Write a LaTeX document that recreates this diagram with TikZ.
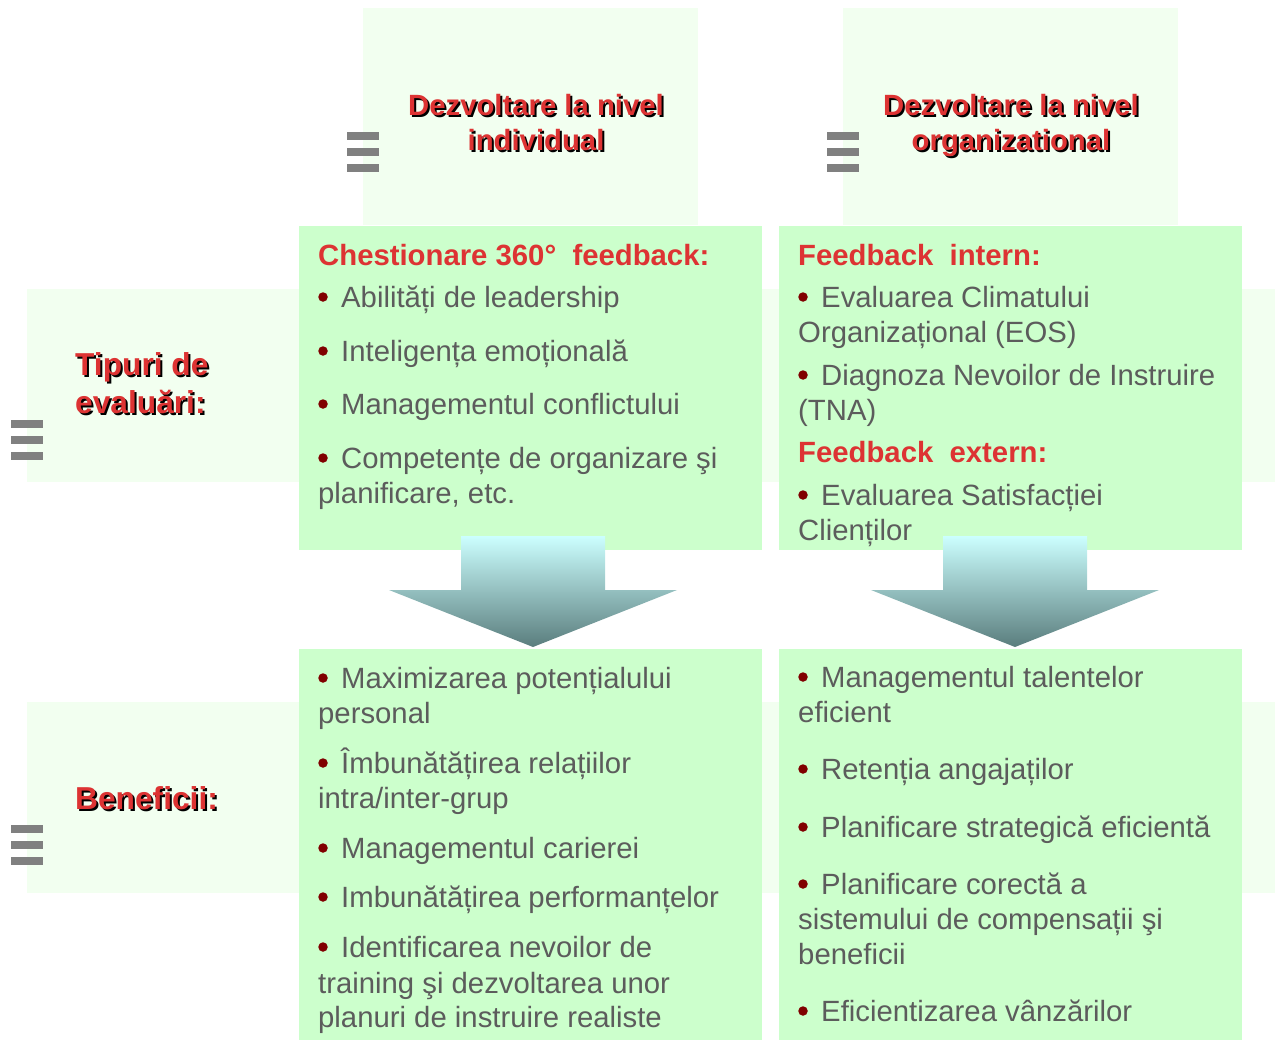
\documentclass[tikz,border=0pt]{standalone}
\usepackage{fontspec}
\setmainfont{Liberation Sans}
\definecolor{paleg}{RGB}{242,255,240}
\definecolor{boxg}{RGB}{204,255,204}
\definecolor{hred}{RGB}{221,51,51}
\definecolor{bodyg}{RGB}{92,92,92}
\definecolor{bulr}{RGB}{128,0,0}
\definecolor{icong}{RGB}{128,128,128}
\definecolor{arrtop}{RGB}{204,255,255}
\definecolor{arrbot}{RGB}{90,125,125}
\newcommand\bline[4]{\node[bul] (b#1) at (#2-18,#3-10) {};\node[txt] (t#1) at (#2,#3) {#4};}
\newcommand\contline[4]{\node[txt] (t#1) at (#2,#3) {#4};}
\newcommand\shdc[4]{\node[hsh,anchor=base] (#1s) at (#2+2,#3+2) {#4};\node[hdr,anchor=base] (#1) at (#2,#3) {#4};}
\newcommand\shdl[4]{\node[hsh,rowlab,anchor=base west] (#1s) at (#2+2,#3+2) {#4};\node[hdr,rowlab,anchor=base west] (#1) at (#2,#3) {#4};}
\begin{document}
\begin{tikzpicture}[x=1pt,y=-1pt,
  txt/.style={anchor=base west, inner sep=0pt, font=\fontsize{29.3}{35}\selectfont, text=bodyg},
  sub/.style={anchor=base west, inner sep=0pt, font=\fontsize{29.3}{35}\selectfont\bfseries, text=hred},
  hdr/.style={inner sep=0pt, font=\fontsize{29.3}{35}\selectfont\bfseries, text=hred},
  rowlab/.style={font=\fontsize{31.7}{38}\selectfont\bfseries},
  hsh/.style={hdr, text=black},
  bul/.style={circle, fill=bulr, inner sep=0pt, minimum size=9.5pt},
  pale/.style={fill=paleg},
  gbox/.style={fill=boxg},
  bar/.style={fill=icong},
  arr/.style={top color=arrtop, bottom color=arrbot, draw=none}]
\useasboundingbox (0,0) rectangle (1277,1041);
% pale backgrounds
\fill[pale] (363,8) rectangle (698,225);
\fill[pale] (843,8) rectangle (1178,225);
\fill[pale] (27,289) rectangle (1275,482);
\fill[pale] (27,702) rectangle (1275,893);
% green boxes
\fill[gbox] (299,226) rectangle (762,550);
\fill[gbox] (779,226) rectangle (1242,550);
\fill[gbox] (299,649) rectangle (762,1040);
\fill[gbox] (779,649) rectangle (1242,1040);
% arrows
\shade[arr] (461,536) -- (605,536) -- (605,590) -- (677,590) -- (533,647) -- (389,590) -- (461,590) -- cycle;
\shade[arr] (943,536) -- (1087,536) -- (1087,590) -- (1159,590) -- (1015,647) -- (871,590) -- (943,590) -- cycle;
% icons
\foreach \x/\y in {347/132, 827/132, 11/420, 11/825}{
  \fill[bar] (\x,\y) rectangle (\x+32,\y+8);
  \fill[bar] (\x,\y+16) rectangle (\x+32,\y+24);
  \fill[bar] (\x,\y+32) rectangle (\x+32,\y+40);
}
% headers
\shdc{h1a}{536}{115}{Dezvoltare la nivel}
\shdc{h1b}{536}{150}{individual}
\shdc{h2a}{1011}{115}{Dezvoltare la nivel}
\shdc{h2b}{1011}{150}{organizational}
\shdl{r1a}{75}{375}{Tipuri de}
\shdl{r1b}{75}{413}{evaluări:}
\shdl{r2a}{75}{809}{Beneficii:}
% top-left box
\node[sub] (s1) at (318,265) {Chestionare 360°\ \ feedback:};
\bline{a1}{341}{307}{Abilități de leadership}
\bline{a2}{341}{361}{Inteligența emoțională}
\bline{a3}{341}{414}{Managementul conflictului}
\bline{a4}{341}{468}{Competențe de organizare şi}
\contline{a5}{318}{503}{planificare, etc.}
% top-right box
\node[sub] (s2) at (798,265) {Feedback\ \ intern:};
\bline{c1}{821}{307}{Evaluarea Climatului}
\contline{c2}{798}{342}{Organizațional (EOS)}
\bline{c3}{821}{385}{Diagnoza Nevoilor de Instruire}
\contline{c4}{798}{420}{(TNA)}
\node[sub] (s3) at (798,462) {Feedback\ \ extern:};
\bline{c5}{821}{505}{Evaluarea Satisfacției}
\contline{c6}{798}{540}{Clienților}
% bottom-left box
\bline{d1}{341}{688}{Maximizarea potențialului}
\contline{d2}{318}{723}{personal}
\bline{d3}{341}{773}{Îmbunătățirea relațiilor}
\contline{d4}{318}{808}{intra/inter-grup}
\bline{d5}{341}{858}{Managementul carierei}
\bline{d6}{341}{907}{Imbunătățirea performanțelor}
\bline{d7}{341}{957}{Identificarea nevoilor de}
\contline{d8}{318}{993}{training şi dezvoltarea unor}
\contline{d9}{318}{1027}{planuri de instruire realiste}
% bottom-right box
\bline{e1}{821}{687}{Managementul talentelor}
\contline{e2}{798}{722}{eficient}
\bline{e3}{821}{779}{Retenția angajaților}
\bline{e4}{821}{837}{Planificare strategică eficientă}
\bline{e5}{821}{894}{Planificare corectă a}
\contline{e6}{798}{929}{sistemului de compensații şi}
\contline{e7}{798}{964}{beneficii}
\bline{e8}{821}{1021}{Eficientizarea vânzărilor}
\end{tikzpicture}
\end{document}
